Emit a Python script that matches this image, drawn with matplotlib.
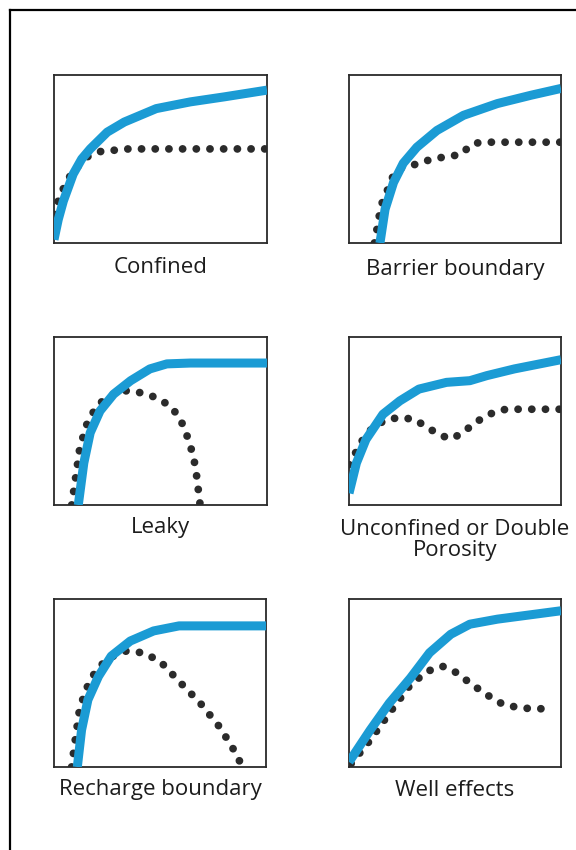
import matplotlib
matplotlib.use("Agg")
import matplotlib.pyplot as plt
from matplotlib.lines import Line2D

plt.rcParams['font.family'] = ['Open Sans', 'DejaVu Sans']

# ---- data (normalised 0..1 within each panel) ----
titles = ["Confined", "Barrier boundary", "Leaky",
          "Unconfined or Double\nPorosity", "Recharge boundary", "Well effects"]

confined_theis_x = [0.0, 0.02, 0.044, 0.09, 0.13, 0.17, 0.25, 0.33, 0.48, 0.64, 0.80, 1.0]
confined_theis_y = [0.02, 0.14, 0.25, 0.41, 0.50, 0.56, 0.66, 0.72, 0.80, 0.84, 0.87, 0.91]
confined_deriv_x = [0.0, 0.03, 0.08, 0.15, 0.22, 0.35, 1.0]
confined_deriv_y = [0.17, 0.29, 0.41, 0.51, 0.545, 0.56, 0.56]

barrier_theis_x = [0.146, 0.17, 0.21, 0.256, 0.32, 0.415, 0.54, 0.70, 0.86, 1.0]
barrier_theis_y = [0.0, 0.20, 0.36, 0.475, 0.57, 0.67, 0.76, 0.83, 0.88, 0.92]
barrier_deriv_x = [0.12, 0.14, 0.15, 0.18, 0.20, 0.23, 0.27, 0.32, 0.38, 0.46, 0.525, 0.56, 0.59, 0.65, 1.0]
barrier_deriv_y = [0.0, 0.14, 0.22, 0.31, 0.38, 0.44, 0.455, 0.47, 0.495, 0.515, 0.525, 0.565, 0.594, 0.60, 0.60]

leaky_theis_x = [0.114, 0.14, 0.17, 0.216, 0.28, 0.36, 0.45, 0.53, 0.64, 1.0]
leaky_theis_y = [0.0, 0.25, 0.43, 0.56, 0.66, 0.74, 0.81, 0.84, 0.845, 0.845]
leaky_deriv_x = [0.083, 0.10, 0.12, 0.15, 0.20, 0.26, 0.34, 0.40, 0.48, 0.545, 0.59, 0.62, 0.655, 0.67, 0.686]
leaky_deriv_y = [0.0, 0.15, 0.33, 0.47, 0.59, 0.65, 0.68, 0.67, 0.64, 0.59, 0.52, 0.43, 0.29, 0.17, 0.0]

unconf_theis_x = [0.0, 0.035, 0.08, 0.16, 0.24, 0.33, 0.46, 0.57, 0.65, 0.78, 1.0]
unconf_theis_y = [0.07, 0.25, 0.39, 0.54, 0.62, 0.69, 0.73, 0.74, 0.77, 0.81, 0.865]
unconf_deriv_x = [0.0, 0.035, 0.074, 0.12, 0.18, 0.24, 0.31, 0.37, 0.44, 0.49, 0.555, 0.62, 0.68, 0.74, 1.0]
unconf_deriv_y = [0.24, 0.32, 0.41, 0.47, 0.51, 0.52, 0.51, 0.46, 0.41, 0.395, 0.45, 0.51, 0.55, 0.57, 0.57]

recharge_theis_x = [0.11, 0.13, 0.16, 0.21, 0.27, 0.36, 0.47, 0.59, 1.0]
recharge_theis_y = [0.0, 0.22, 0.40, 0.54, 0.66, 0.75, 0.81, 0.84, 0.84]
recharge_deriv_x = [0.083, 0.10, 0.12, 0.15, 0.20, 0.26, 0.34, 0.42, 0.50, 0.59, 0.69, 0.78, 0.84, 0.89]
recharge_deriv_y = [0.0, 0.16, 0.34, 0.46, 0.58, 0.65, 0.69, 0.68, 0.63, 0.51, 0.38, 0.24, 0.12, 0.0]

well_theis_x = [0.0, 0.10, 0.19, 0.29, 0.38, 0.48, 0.57, 0.70, 1.0]
well_theis_y = [0.03, 0.22, 0.38, 0.53, 0.68, 0.79, 0.85, 0.88, 0.93]
well_deriv_x = [0.01, 0.10, 0.19, 0.29, 0.37, 0.44, 0.51, 0.57, 0.65, 0.73, 0.82, 0.95]
well_deriv_y = [0.02, 0.16, 0.32, 0.49, 0.57, 0.60, 0.56, 0.50, 0.43, 0.37, 0.35, 0.345]

panels = [
    (confined_theis_x, confined_theis_y, confined_deriv_x, confined_deriv_y),
    (barrier_theis_x, barrier_theis_y, barrier_deriv_x, barrier_deriv_y),
    (leaky_theis_x, leaky_theis_y, leaky_deriv_x, leaky_deriv_y),
    (unconf_theis_x, unconf_theis_y, unconf_deriv_x, unconf_deriv_y),
    (recharge_theis_x, recharge_theis_y, recharge_deriv_x, recharge_deriv_y),
    (well_theis_x, well_theis_y, well_deriv_x, well_deriv_y),
]

# ---- layout (pixel boxes: left, top, right, bottom) ----
W, H = 576, 850
boxes = [(54, 75, 267, 243), (349, 75, 561, 243),
         (54, 337, 267, 505), (349, 337, 561, 505),
         (54, 599, 266, 767), (349, 599, 561, 767)]
label_y = [267, 270, 528, 540, 789, 790]

fig = plt.figure(figsize=(W / 100, H / 100), dpi=100)
fig.patch.set_facecolor("white")

blue = "#1b9bd4"
dot = "#2b2b2b"

for (tx, ty, dx, dy), (l, t, r, b), title, ly in zip(panels, boxes, titles, label_y):
    ax = fig.add_axes([l / W, 1 - b / H, (r - l) / W, (b - t) / H])
    ax.plot(dx, dy, color=dot, lw=5.6, linestyle=(0, (0.01, 1.75)),
            dash_capstyle="round", zorder=2)
    ax.plot(tx, ty, color=blue, lw=6.5, solid_capstyle="butt",
            solid_joinstyle="round", zorder=3)
    ax.set_xlim(0, 1)
    ax.set_ylim(0, 1)
    ax.set_xticks([])
    ax.set_yticks([])
    for s in ax.spines.values():
        s.set_linewidth(1.3)
        s.set_color("#2a2a2a")
    fig.text((l + r) / 2 / W, 1 - ly / H, title, ha="center", va="center",
             fontsize=16, color="#1c1c1c", linespacing=0.95)

# outer frame (left and top edges)
fig.add_artist(Line2D([10 / W, 10 / W], [0, 1 - 10 / H], color="black", lw=1.6,
                      transform=fig.transFigure))
fig.add_artist(Line2D([10 / W, 1], [1 - 10 / H, 1 - 10 / H], color="black", lw=1.6,
                      transform=fig.transFigure))

fig.savefig("out.png", dpi=100, facecolor="white")
